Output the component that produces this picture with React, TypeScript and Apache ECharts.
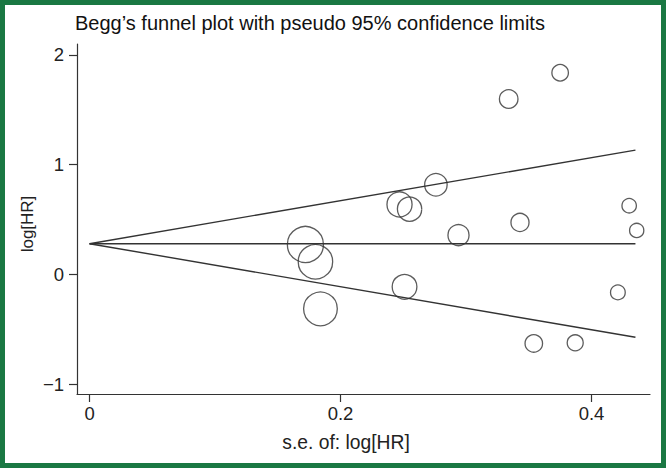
import React, { useEffect, useRef } from "react";
import * as echarts from "echarts";

// Study standard errors and log hazard ratios
const seValues = [0.375, 0.334, 0.276, 0.247, 0.255, 0.294, 0.172, 0.18, 0.184, 0.251, 0.343, 0.43, 0.436, 0.421, 0.354, 0.387];
const logHR = [1.838, 1.598, 0.817, 0.638, 0.595, 0.358, 0.273, 0.115, -0.314, -0.113, 0.474, 0.626, 0.401, -0.164, -0.629, -0.624];

// Pseudo 95% confidence limits
const limitSe = [0, 0.435];
const upperLimit = [0.28, 1.133];
const pooledLine = [0.28, 0.28];
const lowerLimit = [0.28, -0.573];

const xTicks = [0, 0.2, 0.4];
const yTicks = [-1, 0, 1, 2];

const TITLE = "Begg\u2019s funnel plot with pseudo 95% confidence limits";
const X_NAME = "s.e. of: log[HR]";
const Y_NAME = "log[HR]";

const FONT = "'Liberation Sans', Arial, Helvetica, sans-serif";
const INK = "#333333";

export default function App() {
  const ref = useRef<HTMLDivElement>(null);

  useEffect(() => {
    if (!ref.current) return;
    const chart = echarts.init(ref.current, null, { renderer: "svg" });

    const points = seValues.map((s, i) => [s, logHR[i]]);
    const toLine = (ys: number[]) => limitSe.map((s, i) => [s, ys[i]]);

    const lineSeries = (name: string, ys: number[]) => ({
      name,
      type: "line",
      data: toLine(ys),
      showSymbol: false,
      symbol: "none",
      silent: true,
      lineStyle: { color: INK, width: 1.4 },
      z: 2,
    });

    chart.setOption({
      animation: false,
      backgroundColor: "#ffffff",
      grid: { left: 77, right: 19, top: 44, bottom: 74 },
      xAxis: {
        type: "value",
        min: -0.01,
        max: 0.4466,
        axisLine: { show: true, onZero: false, lineStyle: { color: INK, width: 1.2 } },
        axisTick: { show: true, length: 8, customValues: xTicks, lineStyle: { color: INK, width: 1.2 } },
        axisLabel: {
          customValues: xTicks,
          formatter: (v: number) => String(v),
          fontSize: 18.5,
          fontFamily: FONT,
          color: "#222",
          margin: 10,
        },
        splitLine: { show: false },
      },
      yAxis: {
        type: "value",
        min: -1.09,
        max: 2.1,
        axisLine: { show: true, onZero: false, lineStyle: { color: INK, width: 1.2 } },
        axisTick: { show: true, length: 8, customValues: yTicks, lineStyle: { color: INK, width: 1.2 } },
        axisLabel: {
          customValues: yTicks,
          formatter: (v: number) => (v < 0 ? "\u2212" + Math.abs(v) : String(v)),
          fontSize: 18.5,
          fontFamily: FONT,
          color: "#222",
          margin: 13,
        },
        splitLine: { show: false },
      },
      series: [
        lineSeries("upper", upperLimit),
        lineSeries("pooled", pooledLine),
        lineSeries("lower", lowerLimit),
        {
          name: "studies",
          type: "scatter",
          data: points,
          symbol: "circle",
          symbolSize: (v: number[]) => 6.2 / v[0],
          itemStyle: { color: "rgba(0,0,0,0)", borderColor: INK, borderWidth: 1.3 },
          z: 3,
        },
      ],
      graphic: [
        {
          type: "rect",
          shape: { x: 2.5, y: 2.5, width: 661, height: 463 },
          style: { fill: "none", stroke: "#1a7843", lineWidth: 5 },
          silent: true,
        },
        {
          type: "text",
          x: 75,
          y: 23,
          style: { text: TITLE, font: `20px ${FONT}`, fill: "#111", textVerticalAlign: "middle", textAlign: "left" },
        },
        {
          type: "text",
          x: 346,
          y: 442,
          style: { text: X_NAME, font: `19.3px ${FONT}`, fill: "#222", textAlign: "center", textVerticalAlign: "middle" },
        },
        {
          type: "text",
          x: 27,
          y: 224,
          rotation: Math.PI / 2,
          style: { text: Y_NAME, font: `17px ${FONT}`, fill: "#222", textAlign: "center", textVerticalAlign: "middle" },
        },
      ],
    });

    return () => chart.dispose();
  }, []);

  return (
    <div
      ref={ref}
      style={{ position: "absolute", left: 0, top: 0, width: 669, height: 468, background: "#fff" }}
    />
  );
}
